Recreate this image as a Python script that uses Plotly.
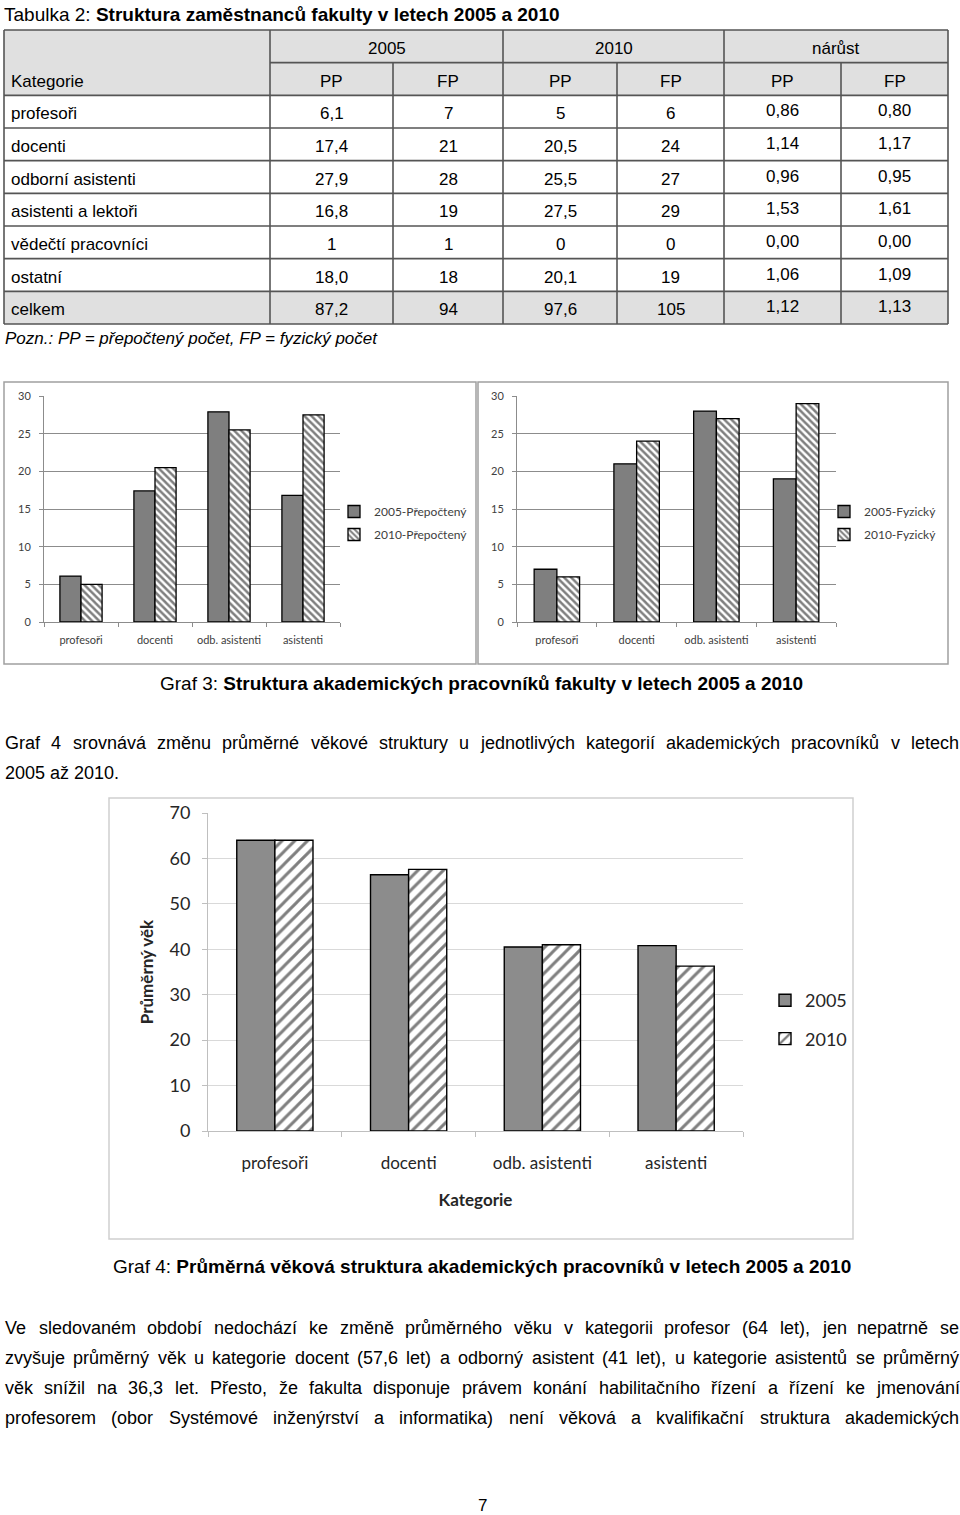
import plotly.graph_objects as go

W, H = 960, 1515


def X(p):
    return p / W


def Y(p):
    return 1 - p / H


SANS = "Liberation Sans, Arial, sans-serif"
CHART = "Lato, Open Sans, sans-serif"

# ---------------- data ----------------
table_title_plain = "Tabulka 2: "
table_title_bold = "Struktura zaměstnanců fakulty v letech 2005 a 2010"
year_headers = ["2005", "2010", "nárůst"]
sub_headers = ["PP", "FP", "PP", "FP", "PP", "FP"]
row_categories = ["profesoři", "docenti", "odborní asistenti", "asistenti a lektoři",
                  "vědečtí pracovníci", "ostatní", "celkem"]
pp_2005 = ["6,1", "17,4", "27,9", "16,8", "1", "18,0", "87,2"]
fp_2005 = ["7", "21", "28", "19", "1", "18", "94"]
pp_2010 = ["5", "20,5", "25,5", "27,5", "0", "20,1", "97,6"]
fp_2010 = ["6", "24", "27", "29", "0", "19", "105"]
growth_pp = ["0,86", "1,14", "0,96", "1,53", "0,00", "1,06", "1,12"]
growth_fp = ["0,80", "1,17", "0,95", "1,61", "0,00", "1,09", "1,13"]
table_note = "Pozn.: PP = přepočtený počet, FP = fyzický počet"

graf3_categories = ["profesoři", "docenti", "odb. asistenti", "asistenti"]
pp_2005_vals = [6.1, 17.4, 27.9, 16.8]
pp_2010_vals = [5, 20.5, 25.5, 27.5]
fp_2005_vals = [7, 21, 28, 19]
fp_2010_vals = [6, 24, 27, 29]
graf3_ticks = [0, 5, 10, 15, 20, 25, 30]
graf3_caption = ("Graf 3: ", "Struktura akademických pracovníků fakulty v letech 2005 a 2010")

intro_lines = [
    "Graf 4 srovnává změnu průměrné věkové struktury u jednotlivých kategorií akademických pracovníků v letech",
    "2005 až 2010.",
]

age_categories = ["profesoři", "docenti", "odb. asistenti", "asistenti"]
age_2005 = [64, 56.4, 40.5, 40.8]
age_2010 = [64, 57.6, 41, 36.3]
age_ticks = [0, 10, 20, 30, 40, 50, 60, 70]
graf4_caption = ("Graf 4: ", "Průměrná věková struktura akademických pracovníků v letech 2005 a 2010")

paragraph_lines = [
    "Ve sledovaném období nedochází ke změně průměrného věku v kategorii profesor (64 let), jen nepatrně se",
    "zvyšuje průměrný věk u kategorie docent (57,6 let) a odborný asistent (41 let), u kategorie asistentů se průměrný",
    "věk snížil na 36,3 let. Přesto, že fakulta disponuje právem konání habilitačního řízení a řízení ke jmenování",
    "profesorem (obor Systémové inženýrství a informatika) není věková a kvalifikační struktura akademických",
]
page_number = "7"

# ---------------- text metrics (Arial / Liberation Sans advance widths) ----------------
_W = {" ": 278, ",": 278, ".": 278, ":": 278, ";": 278, "(": 333, ")": 333, "-": 333, "=": 584,
      "a": 556, "b": 556, "c": 500, "d": 556, "e": 556, "f": 278, "g": 556, "h": 556, "i": 222,
      "j": 222, "k": 500, "l": 222, "m": 833, "n": 556, "o": 556, "p": 556, "q": 556, "r": 333,
      "s": 500, "t": 278, "u": 556, "v": 500, "w": 722, "x": 500, "y": 500, "z": 500,
      "A": 667, "B": 667, "C": 722, "D": 722, "E": 667, "F": 611, "G": 778, "H": 722, "I": 278,
      "J": 500, "K": 667, "L": 556, "M": 833, "N": 722, "O": 778, "P": 667, "Q": 778, "R": 722,
      "S": 667, "T": 611, "U": 722, "V": 667, "W": 944, "X": 667, "Y": 667, "Z": 611}
for _d in "0123456789":
    _W[_d] = 556
_ACC = {"á": "a", "č": "c", "ď": "d", "é": "e", "ě": "e", "í": "i", "ň": "n", "ó": "o", "ř": "r",
        "š": "s", "ť": "t", "ú": "u", "ů": "u", "ý": "y", "ž": "z", "Č": "C", "Ř": "R", "Š": "S",
        "Ž": "Z"}
for _k, _v in _ACC.items():
    _W[_k] = _W[_v]
_W["í"] = 278


def text_width(s, size):
    return sum(_W.get(ch, 556) for ch in s) / 1000.0 * size


# ---------------- helpers ----------------
annotations = []
shapes = []


def text(x, y, s, size=17, anchor="left", family=SANS, color="black"):
    annotations.append(dict(x=X(x), y=Y(y), xref="paper", yref="paper", text=s,
                            showarrow=False, xanchor=anchor, yanchor="middle", borderpad=0,
                            font=dict(family=family, size=size, color=color)))


def justified(y, s, size, x0=4, x1=958):
    words = s.split(" ")
    widths = [text_width(w, size) for w in words]
    gap = (x1 - x0 - sum(widths)) / (len(words) - 1)
    x = x0
    for w, wd in zip(words, widths):
        text(x, y, w, size=size)
        x += wd + gap


def line(x0, y0, x1, y1, color="#555555", width=1.6):
    shapes.append(dict(type="line", xref="paper", yref="paper", x0=X(x0), y0=Y(y0),
                       x1=X(x1), y1=Y(y1), line=dict(color=color, width=width)))


def rect(x0, y0, x1, y1, fill=None, color=None, width=1.5, layer="below"):
    shapes.append(dict(type="rect", xref="paper", yref="paper", x0=X(x0), y0=Y(y0),
                       x1=X(x1), y1=Y(y1), layer=layer,
                       fillcolor=fill if fill else "rgba(0,0,0,0)",
                       line=dict(color=color if color else "rgba(0,0,0,0)", width=width)))


# ---------------- table ----------------
text(3, 14, table_title_plain + "<b>" + table_title_bold + "</b>", size=19)

top, bottom = 30, 324
nrows = 9
row_h = (bottom - top) / nrows
row_edges = [top + i * row_h for i in range(nrows + 1)]
col_edges = [4, 270, 393, 503, 617, 724, 841, 948]

rect(4, row_edges[0], 948, row_edges[2], fill="#e0e0e0")
rect(4, row_edges[8], 948, row_edges[9], fill="#e0e0e0")

line(4, row_edges[0], 948, row_edges[0])
line(270, row_edges[1], 948, row_edges[1])
for ry in row_edges[2:]:
    line(4, ry, 948, ry)
for cx in [4, 270, 503, 724, 948]:
    line(cx, row_edges[0], cx, row_edges[9])
for cx in [393, 617, 841]:
    line(cx, row_edges[1], cx, row_edges[9])

group_edges = [270, 503, 724, 948]
for i, lab in enumerate(year_headers):
    text((group_edges[i] + group_edges[i + 1]) / 2, row_edges[0] + row_h / 2 + 2, lab, anchor="center")
text(10, row_edges[1] + row_h / 2 + 2, "Kategorie")
for j, lab in enumerate(sub_headers):
    text((col_edges[j + 1] + col_edges[j + 2]) / 2, row_edges[1] + row_h / 2 + 2, lab, anchor="center")

value_columns = [pp_2005, fp_2005, pp_2010, fp_2010, growth_pp, growth_fp]
for i, cat in enumerate(row_categories):
    cy = row_edges[i + 2] + row_h / 2 + 2
    text(10, cy, cat)
    for j, col in enumerate(value_columns):
        off = -3 if j >= 4 else 0
        text((col_edges[j + 1] + col_edges[j + 2]) / 2, cy + off, col[i], anchor="center")

text(4, 338, "<i>" + table_note + "</i>")

# ---------------- Graf 3 panels ----------------
rect(4, 382, 476, 664, color="#a0a0a0", width=1.5)
rect(478, 382, 948, 664, color="#a0a0a0", width=1.5)

fig = go.Figure()

hatch3 = dict(shape="\\", fgcolor="black", bgcolor="white", size=5, solidity=0.5)
fig.add_trace(go.Bar(x=graf3_categories, y=pp_2005_vals, name="2005-Přepočtený",
                     marker=dict(color="#7f7f7f", line=dict(color="black", width=1.3)),
                     xaxis="x", yaxis="y", legend="legend", legendgroup="a"))
fig.add_trace(go.Bar(x=graf3_categories, y=pp_2010_vals, name="2010-Přepočtený",
                     marker=dict(color="white", pattern=hatch3, line=dict(color="black", width=1.3)),
                     xaxis="x", yaxis="y", legend="legend", legendgroup="b"))
fig.add_trace(go.Bar(x=graf3_categories, y=fp_2005_vals, name="2005-Fyzický",
                     marker=dict(color="#7f7f7f", line=dict(color="black", width=1.3)),
                     xaxis="x2", yaxis="y2", legend="legend2", legendgroup="c"))
fig.add_trace(go.Bar(x=graf3_categories, y=fp_2010_vals, name="2010-Fyzický",
                     marker=dict(color="white", pattern=hatch3, line=dict(color="black", width=1.3)),
                     xaxis="x2", yaxis="y2", legend="legend2", legendgroup="d"))

# ---------------- Graf 4 ----------------
hatch4 = dict(shape="/", fgcolor="black", bgcolor="white", size=9, solidity=0.33)
fig.add_trace(go.Bar(x=age_categories, y=age_2005, name="2005",
                     marker=dict(color="#8c8c8c", line=dict(color="black", width=1.4)),
                     xaxis="x3", yaxis="y3", legend="legend3", legendgroup="e"))
fig.add_trace(go.Bar(x=age_categories, y=age_2010, name="2010",
                     marker=dict(color="white", pattern=hatch4, line=dict(color="black", width=1.4)),
                     xaxis="x3", yaxis="y3", legend="legend3", legendgroup="f"))

rect(109, 798, 853, 1239, color="#cfcfcf", width=1.5)

# captions and body text
text(481, 684, graf3_caption[0] + "<b>" + graf3_caption[1] + "</b>", size=19, anchor="center")
justified(743, intro_lines[0], 18)
text(4, 773, intro_lines[1], size=18)
text(482, 1266, graf4_caption[0] + "<b>" + graf4_caption[1] + "</b>", size=19, anchor="center")
for k, ln in enumerate(paragraph_lines):
    justified(1328 + 30 * k, ln, 18)
text(482, 1505, page_number, size=17, anchor="center")

g3_axis = dict(showline=True, linecolor="#8c8c8c", linewidth=1, ticks="outside", ticklen=4,
               tickcolor="#8c8c8c", automargin=False,
               tickfont=dict(family=CHART, size=11, color="#404040"))
g3_y = dict(range=[0, 30], tickvals=graf3_ticks, showgrid=True, gridcolor="#8c8c8c", gridwidth=1,
            zeroline=False, ticklabelstandoff=6, **g3_axis)
g3_x = dict(type="category", tickson="boundaries", showgrid=False, ticklabelstandoff=8, **g3_axis)

g4_y = dict(range=[0, 70], tickvals=age_ticks, showgrid=True, gridcolor="#d9d9d9", gridwidth=1,
            zeroline=False, showline=True, linecolor="#bfbfbf", ticks="outside", ticklen=5,
            tickcolor="#bfbfbf", ticklabelstandoff=8, automargin=False,
            tickfont=dict(family=CHART, size=18, color="#262626"),
            title=dict(text="<b>Průměrný věk</b>", standoff=11,
                       font=dict(family=CHART, size=17, color="#262626")))
g4_x = dict(type="category", tickson="boundaries", showgrid=False, showline=True, linecolor="#bfbfbf",
            ticks="outside", ticklen=5, tickcolor="#bfbfbf", ticklabelstandoff=17, automargin=False,
            tickfont=dict(family=CHART, size=17, color="#262626"),
            title=dict(text="<b>Kategorie</b>", standoff=21,
                       font=dict(family=CHART, size=17, color="#262626")))

fig.update_layout(
    width=W, height=H, autosize=False,
    margin=dict(l=0, r=0, t=0, b=0, pad=0, autoexpand=False),
    paper_bgcolor="white", plot_bgcolor="white",
    barmode="group", bargap=0.43, bargroupgap=0,
    xaxis=dict(domain=[X(44), X(340)], anchor="y", **g3_x),
    yaxis=dict(domain=[Y(622), Y(396)], anchor="x", **g3_y),
    xaxis2=dict(domain=[X(517), X(836)], anchor="y2", **g3_x),
    yaxis2=dict(domain=[Y(622), Y(396)], anchor="x2", **g3_y),
    xaxis3=dict(domain=[X(208), X(743)], anchor="y3", **g4_x),
    yaxis3=dict(domain=[Y(1131), Y(813)], anchor="x3", **g4_y),
    legend=dict(x=X(334), y=Y(497), xanchor="left", yanchor="top", traceorder="grouped",
                tracegroupgap=4, bgcolor="rgba(0,0,0,0)",
                font=dict(family=CHART, size=12, color="#404040")),
    legend2=dict(x=X(824), y=Y(497), xanchor="left", yanchor="top", traceorder="grouped",
                 tracegroupgap=4, bgcolor="rgba(0,0,0,0)",
                 font=dict(family=CHART, size=12, color="#404040")),
    legend3=dict(x=X(765), y=Y(982), xanchor="left", yanchor="top", traceorder="grouped",
                 tracegroupgap=12, bgcolor="rgba(0,0,0,0)",
                 font=dict(family=CHART, size=18, color="#262626")),
    shapes=shapes,
    annotations=annotations,
    showlegend=True,
)

fig.write_html(
    "out.html",
    config={"displayModeBar": False},
    post_script=(
        "document.documentElement.style.margin='0';document.documentElement.style.overflow='hidden';"
        "document.body.style.margin='0';document.body.style.padding='0';document.body.style.overflow='hidden';"
        "var d=document.getElementById('{plot_id}');d.style.position='fixed';d.style.left='0';d.style.top='0';"
    ),
)
